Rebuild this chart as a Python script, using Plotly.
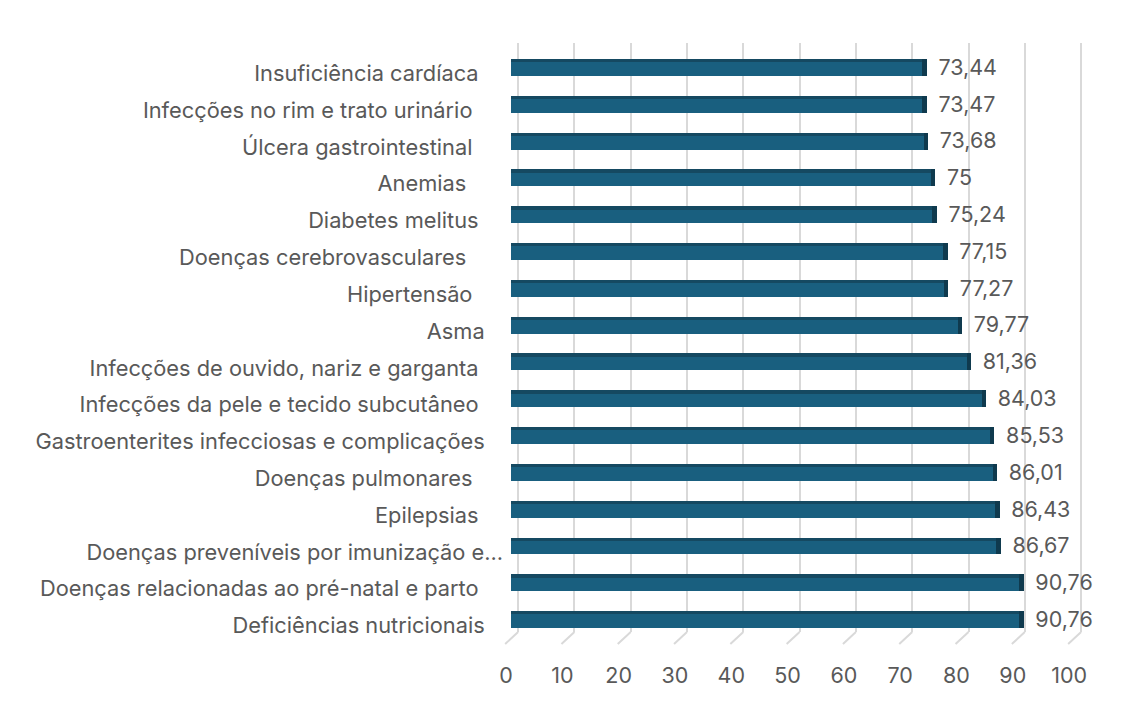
import plotly.graph_objects as go

# categories, top to bottom as shown in the chart (trailing spaces as in the source sheet)
categorias = [
    "Insuficiência cardíaca ",
    "Infecções no rim e trato urinário  ",
    "Úlcera gastrointestinal  ",
    "Anemias   ",
    "Diabetes melitus ",
    "Doenças cerebrovasculares   ",
    "Hipertensão  ",
    "Asma",
    "Infecções de ouvido, nariz e garganta ",
    "Infecções da pele e tecido subcutâneo ",
    "Gastroenterites infecciosas e complicações",
    "Doenças pulmonares  ",
    "Epilepsias ",
    "Doenças preveníveis por imunização e...",
    "Doenças relacionadas ao pré-natal e parto ",
    "Deficiências nutricionais",
]
valores = [73.44, 73.47, 73.68, 75, 75.24, 77.15, 77.27, 79.77,
           81.36, 84.03, 85.53, 86.01, 86.43, 86.67, 90.76, 90.76]
ticks_x = [0, 10, 20, 30, 40, 50, 60, 70, 80, 90, 100]

W, H = 1132, 704
OFF = 8  # page body margin around the plot div
FONT = "Inter"
TXT = "#595959"
GRID = "#D9D9D9"
NB = "\u00a0"
N = len(categorias)


def px_x(p):
    return (p - OFF) / W


def px_y(p):
    return (H - (p - OFF)) / H


def fmt(v):
    if float(v).is_integer():
        return str(int(v))
    return f"{v:.2f}".replace(".", ",")


def rotulo(c):
    # keep trailing spaces visible; truncated label overflows like Excel's ellipsis
    core = c.rstrip(" ")
    n = len(c) - len(core)
    pad = "" if core.endswith("...") else NB * 3
    return core + NB * n + pad


fig = go.Figure()

# front face of the bars
fig.add_trace(go.Bar(
    x=valores, y=categorias, orientation="h", xaxis="x2", yaxis="y2",
    width=0.46, offset=-0.23,
    marker=dict(color="#195F7F", line=dict(width=0)),
    hoverinfo="skip", showlegend=False,
))
# darker top face
fig.add_trace(go.Bar(
    x=valores, y=categorias, orientation="h", xaxis="x2", yaxis="y2",
    width=0.09, offset=-0.23,
    marker=dict(color="#154961", line=dict(width=0)),
    hoverinfo="skip", showlegend=False,
))
# dark end face
fig.add_trace(go.Bar(
    x=[0.8] * N, y=categorias, base=valores, orientation="h",
    xaxis="x2", yaxis="y2",
    width=0.46, offset=-0.23,
    marker=dict(color="#0F3A4E", line=dict(width=0)),
    hoverinfo="skip", showlegend=False,
))
# value labels
fig.add_trace(go.Scatter(
    x=valores, y=categorias, mode="text", xaxis="x2", yaxis="y3",
    text=[NB * 2 + "\u2009" + fmt(v) for v in valores],
    textposition="middle right",
    textfont=dict(family=FONT, size=21.5, color=TXT),
    hoverinfo="skip", showlegend=False, cliponaxis=False,
))

fig.update_layout(
    # back wall gridlines (3d offset) + value axis labels on the front edge
    xaxis=dict(domain=[px_x(517 - 3 * 5.64), px_x(1081 + 3 * 5.64)],
               range=[-3, 103], anchor="y",
               tickvals=ticks_x, showgrid=True, gridcolor=GRID, gridwidth=2,
               zeroline=False, showline=False, ticks="",
               ticklabelshift=-12, ticklabelstandoff=28,
               tickfont=dict(family=FONT, size=21.5, color=TXT)),
    yaxis=dict(domain=[px_y(632), px_y(43)], range=[0, 1], anchor="x",
               visible=False, showgrid=False),
    # bars
    xaxis2=dict(domain=[px_x(510), px_x(1071)], range=[0, 100], anchor="y2",
                showgrid=False, zeroline=False, showticklabels=False,
                showline=False),
    yaxis2=dict(domain=[px_y(638), px_y(49)], type="category",
                categoryorder="array", categoryarray=categorias,
                tickvals=categorias, ticktext=[rotulo(c) for c in categorias],
                range=[N - 0.5, -0.5], anchor="x2",
                showgrid=False, zeroline=False,
                ticks="", ticklabelstandoff=7, ticklabelshift=-6,
                tickfont=dict(family=FONT, size=21.8, color=TXT)),
    # value label rows (sit a little below the bar centres)
    yaxis3=dict(domain=[px_y(640), px_y(51)], type="category",
                categoryorder="array", categoryarray=categorias,
                range=[N - 0.5, -0.5], anchor="x2", visible=False),
)

# floor lines from the back wall to the front edge
for v in ticks_x:
    fig.add_shape(type="line", xref="x", yref="paper",
                  x0=v, y0=px_y(632), x1=v - 2.3, y1=px_y(644),
                  line=dict(color=GRID, width=2), layer="below")

fig.update_layout(
    width=W, height=H,
    margin=dict(l=0, r=0, t=0, b=0),
    paper_bgcolor="white", plot_bgcolor="rgba(0,0,0,0)",
    barmode="overlay", bargap=0,
    font=dict(family=FONT, size=21.8, color=TXT),
)

fig.write_html("out.html")
